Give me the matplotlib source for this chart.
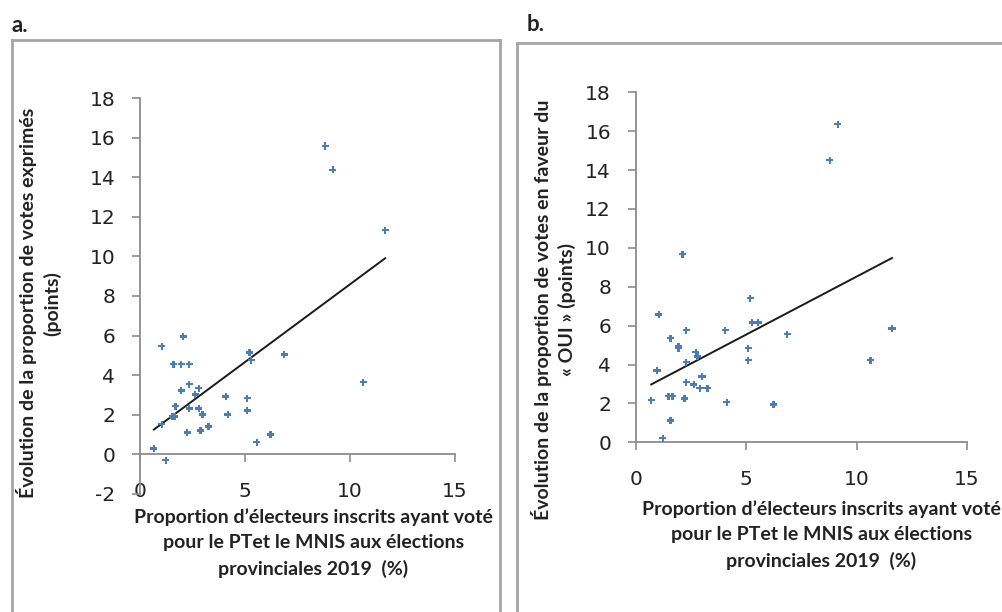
import numpy as np
import matplotlib
matplotlib.use("Agg")
import matplotlib.pyplot as plt
from matplotlib.lines import Line2D

plt.rcParams["axes.unicode_minus"] = False

# values
a_x = [8.81, 9.17, 11.67, 10.63, 6.86, 5.21, 5.29, 4.08, 4.17, 5.10, 5.10, 6.21,
       5.56, 1.03, 2.05, 1.59, 1.95, 2.33, 2.33, 1.95, 2.79, 2.62, 1.68, 2.33,
       2.79, 2.97, 1.54, 1.65, 1.03, 2.24, 2.87, 3.25, 0.65, 1.22]
a_y = [15.58, 14.37, 11.33, 3.64, 5.05, 5.15, 4.75, 2.93, 2.02, 2.83, 2.22, 1.01,
       0.61, 5.46, 5.96, 4.55, 4.55, 4.55, 3.54, 3.23, 3.34, 3.03, 2.43, 2.32,
       2.32, 2.02, 1.92, 1.92, 1.52, 1.11, 1.21, 1.41, 0.30, -0.30]

b_x = [9.14, 8.78, 2.10, 5.17, 5.26, 5.54, 1.04, 2.28, 4.04, 6.85, 11.60, 1.57,
       1.92, 1.92, 5.08, 2.71, 2.79, 5.08, 10.63, 2.28, 0.95, 2.99, 2.28, 2.62,
       2.90, 3.24, 1.48, 1.66, 2.19, 0.69, 4.12, 6.23, 1.57, 1.22]
b_y = [16.36, 14.51, 9.67, 7.41, 6.17, 6.17, 6.58, 5.76, 5.76, 5.56, 5.86, 5.35,
       4.94, 4.84, 4.84, 4.63, 4.42, 4.22, 4.22, 4.12, 3.70, 3.39, 3.09, 2.98,
       2.78, 2.78, 2.37, 2.37, 2.26, 2.16, 2.06, 1.95, 1.13, 0.21]

x_ticks = [0, 5, 10, 15]
a_yticks = list(range(-2, 19, 2))
b_yticks = list(range(0, 19, 2))

x_title = "Proportion d\u2019électeurs inscrits ayant voté\npour le PTet le MNIS aux élections\nprovinciales 2019  (%)"
a_ytitle = "Évolution de la proportion de votes exprimés\n(points)"
b_ytitle = "Évolution de la proportion de votes en faveur du\n\u00ab OUI \u00bb (points)"

W, H = 1002, 612
BLUE = "#4a7ebb"
GREY = "#8c8c8c"
TEXT = "#222222"
TITLE_FONT = ["Lato", "DejaVu Sans"]

fig = plt.figure(figsize=(W / 100, H / 100), dpi=100)


def px(x0, y_top, x1, y_bot):
    # pixel box -> figure fraction [left, bottom, width, height]
    return [x0 / W, 1 - y_bot / H, (x1 - x0) / W, (y_bot - y_top) / H]


def draw_panel(ax, xs, ys, ylim, yticks, ytitle, ylab_xy, xlab_xy):
    ax.scatter(xs, ys, marker="P", s=26, color=BLUE, edgecolors="none", zorder=3)

    # linear trend line as in the spreadsheet chart
    k, b = np.polyfit(xs, ys, 1)
    xx = np.array([min(xs), max(xs)])
    ax.plot(xx, k * xx + b, color="#1a1a1a", lw=1.4, zorder=2)

    ax.set_xlim(0, 15)
    ax.set_ylim(*ylim)
    ax.set_xticks(x_ticks)
    ax.set_yticks(yticks)

    for s in ["top", "right"]:
        ax.spines[s].set_visible(False)
    ax.spines["bottom"].set_position(("data", 0))
    for s in ["left", "bottom"]:
        ax.spines[s].set_color(GREY)
        ax.spines[s].set_linewidth(1.3)

    ax.tick_params(axis="y", direction="out", length=6, width=1.2, color=GREY,
                   pad=12, labelsize=14.5, labelcolor=TEXT)
    ax.tick_params(axis="x", direction="out", length=6, width=1.2, color=GREY,
                   pad=14, labelsize=14.5, labelcolor=TEXT)
    for t in ax.get_xticklabels() + ax.get_yticklabels():
        t.set_family("DejaVu Sans")

    ax.set_ylabel(ytitle, family=TITLE_FONT, fontweight="bold", fontsize=14,
                  color=TEXT, linespacing=1.45)
    ax.yaxis.set_label_coords(*ylab_xy)
    ax.set_xlabel(x_title, family=TITLE_FONT, fontweight="bold", fontsize=14,
                  color=TEXT, linespacing=1.6)
    ax.xaxis.set_label_coords(*xlab_xy)
    ax.patch.set_alpha(0)


ax_a = fig.add_axes(px(140.3, 98.1, 455, 493.9))
draw_panel(ax_a, a_x, a_y, (-2, 18), a_yticks, a_ytitle,
           (-0.25, 0.482), (0.55, -0.035))

ax_b = fig.add_axes(px(636, 92.3, 967, 442.3))
draw_panel(ax_b, b_x, b_y, (0, 18), b_yticks, b_ytitle,
           (-0.18, 0.378), (0.56, -0.165))

# grey frames around each panel
def frame(x0, y0, x1):
    kw = dict(color="#a6a6a6", lw=2, transform=fig.transFigure)
    fx0, fx1, fy0 = x0 / W, x1 / W, 1 - y0 / H
    fig.add_artist(Line2D([fx0, fx1], [fy0, fy0], **kw))
    fig.add_artist(Line2D([fx0, fx0], [fy0, 0], **kw))
    if x1 < W:
        fig.add_artist(Line2D([fx1, fx1], [fy0, 0], **kw))

frame(12, 40, 500)
frame(517, 43, W)

fig.text(12 / W, 1 - 32 / H, "a.", family=TITLE_FONT, fontweight="bold",
         fontsize=16, color=TEXT)
fig.text(527 / W, 1 - 31 / H, "b.", family=TITLE_FONT, fontweight="bold",
         fontsize=16, color=TEXT)

fig.savefig("out.png", dpi=100)
